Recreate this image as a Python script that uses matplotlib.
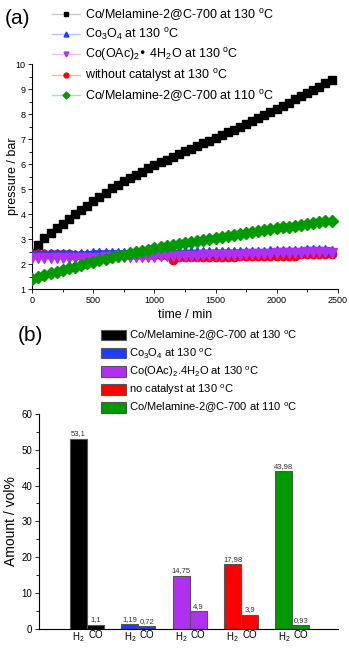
import matplotlib
matplotlib.use("Agg")
import matplotlib.pyplot as plt
from matplotlib.lines import Line2D
from matplotlib.ticker import MultipleLocator

plt.rcParams['font.family'] = ['Liberation Sans', 'DejaVu Sans']
plt.rcParams['mathtext.default'] = 'regular'

# (a) pressure vs time
time_min = list(range(0, 2500, 50))
p_black = [2.45, 2.75, 3.03, 3.25, 3.44, 3.62, 3.80, 4.00, 4.17, 4.34,
           4.51, 4.68, 4.86, 5.04, 5.18, 5.31, 5.44, 5.57, 5.70, 5.83,
           5.95, 6.07, 6.18, 6.29, 6.40, 6.51, 6.61, 6.72, 6.83, 6.93,
           7.04, 7.16, 7.27, 7.38, 7.50, 7.61, 7.73, 7.85, 7.97, 8.09,
           8.21, 8.34, 8.46, 8.59, 8.71, 8.84, 8.97, 9.10, 9.23, 9.36]
p_blue = [2.44, 2.44, 2.44, 2.44, 2.44, 2.44, 2.44, 2.40, 2.44, 2.44,
          2.50, 2.50, 2.50, 2.50, 2.50, 2.50, 2.50, 2.50, 2.50, 2.51,
          2.51, 2.51, 2.51, 2.51, 2.51, 2.52, 2.52, 2.52, 2.52, 2.52,
          2.53, 2.53, 2.53, 2.53, 2.54, 2.54, 2.54, 2.54, 2.54, 2.55,
          2.55, 2.55, 2.55, 2.55, 2.55, 2.62, 2.62, 2.62, 2.62, 2.55]
p_purple = [2.24, 2.24, 2.24, 2.24, 2.24, 2.25, 2.25, 2.25, 2.25, 2.26,
            2.26, 2.26, 2.27, 2.27, 2.27, 2.28, 2.28, 2.29, 2.29, 2.30,
            2.30, 2.31, 2.31, 2.32, 2.32, 2.33, 2.33, 2.34, 2.35, 2.35,
            2.36, 2.36, 2.37, 2.38, 2.38, 2.39, 2.40, 2.40, 2.41, 2.42,
            2.43, 2.44, 2.45, 2.46, 2.46, 2.47, 2.48, 2.48, 2.49, 2.44]
p_red = [2.42, 2.42, 2.42, 2.42, 2.42, 2.42, 2.42, 2.36, 2.36, 2.36,
         2.36, 2.36, 2.36, 2.36, 2.36, 2.36, 2.36, 2.36, 2.36, 2.36,
         2.36, 2.36, 2.36, 2.17, 2.30, 2.28, 2.28, 2.28, 2.28, 2.28,
         2.28, 2.28, 2.28, 2.28, 2.33, 2.33, 2.33, 2.33, 2.33, 2.33,
         2.33, 2.33, 2.33, 2.33, 2.40, 2.40, 2.40, 2.40, 2.40, 2.40]
p_green = [1.40, 1.50, 1.58, 1.64, 1.70, 1.78, 1.85, 1.90, 1.97, 2.04,
           2.10, 2.16, 2.22, 2.28, 2.33, 2.38, 2.43, 2.48, 2.53, 2.58,
           2.63, 2.67, 2.72, 2.76, 2.80, 2.85, 2.89, 2.93, 2.97, 3.02,
           3.06, 3.10, 3.14, 3.17, 3.21, 3.25, 3.29, 3.32, 3.36, 3.39,
           3.43, 3.47, 3.50, 3.54, 3.57, 3.61, 3.64, 3.68, 3.74, 3.72]

labels_a = ["Co/Melamine-2@C-700 at 130 $^o$C",
            "Co$_3$O$_4$ at 130 $^o$C",
            "Co(OAc)$_2$• 4H$_2$O at 130 $^o$C",
            "without catalyst at 130 $^o$C",
            "Co/Melamine-2@C-700 at 110 $^o$C"]

# (b) gas amounts
gas_labels = ["H$_2$", "CO"]
h2_vals = [53.1, 1.19, 14.75, 17.98, 43.98]
co_vals = [1.1, 0.72, 4.9, 3.9, 0.93]
h2_text = ["53,1", "1,19", "14,75", "17,98", "43,98"]
co_text = ["1,1", "0,72", "4,9", "3,9", "0,93"]
labels_b = ["Co/Melamine-2@C-700 at 130 $^o$C",
            "Co$_3$O$_4$ at 130 $^o$C",
            "Co(OAc)$_2$.4H$_2$O at 130 $^o$C",
            "no catalyst at 130 $^o$C",
            "Co/Melamine-2@C-700 at 110 $^o$C"]

colors = ["#000000", "#1e3cff", "#b030f0", "#ff0000", "#009900"]
line_colors = ["#c8c8c8", "#b8c4ff", "#efc0ff", "#ffb0b0", "#b0e0b0"]
markers = ["s", "^", "v", "o", "D"]

fig = plt.figure(figsize=(3.49, 6.48), dpi=100)

# ---- panel (a)
ax1 = fig.add_axes([0.0925, 0.554, 0.875, 0.347])
series = [p_black, p_blue, p_purple, p_red, p_green]
order = [0, 3, 1, 2, 4]
for i in order:
    ms = 6 if i != 2 else 7
    ax1.plot(time_min, series[i], color=colors[i], marker=markers[i],
             ms=ms, mec=colors[i], lw=2, zorder=2 + order.index(i))
ax1.set_xlim(0, 2500)
ax1.set_ylim(1, 10)
ax1.xaxis.set_major_locator(MultipleLocator(500))
ax1.xaxis.set_minor_locator(MultipleLocator(250))
ax1.yaxis.set_major_locator(MultipleLocator(1))
ax1.yaxis.set_minor_locator(MultipleLocator(0.5))
ax1.spines['top'].set_visible(False)
ax1.spines['right'].set_visible(False)
ax1.tick_params(labelsize=6.5, length=3, width=0.6, pad=2)
ax1.tick_params(which='minor', length=2, width=0.6)
ax1.set_xlabel("time / min", fontsize=9, labelpad=3)
ax1.set_ylabel("pressure / bar", fontsize=9)
ax1.yaxis.set_label_coords(-0.045, 0.5)

leg_handles = [Line2D([], [], color=line_colors[i], lw=1, marker=markers[i],
                      mfc=colors[i], mec=colors[i], ms=3.5)
               for i in range(5)]
fig.legend(leg_handles, labels_a, loc='upper left',
           bbox_to_anchor=(0.135, 0.997), frameon=False, fontsize=9,
           handlelength=2.2, handletextpad=0.4, labelspacing=0.3,
           borderaxespad=0)

fig.text(0.013, 0.972, "(a)", fontsize=15, va='center')

# ---- panel (b)
ax2 = fig.add_axes([0.1126, 0.03, 0.856, 0.331])
groups = list(range(1, 6))
w = 0.33
for i in range(5):
    ax2.bar(groups[i] - w / 2, h2_vals[i], w, color=colors[i],
            edgecolor="#555555", lw=0.8, label=labels_b[i])
    ax2.bar(groups[i] + w / 2, co_vals[i], w, color=colors[i],
            edgecolor="#555555", lw=0.8)
    ax2.text(groups[i] - w / 2, h2_vals[i] + 0.4, h2_text[i],
             ha='center', va='bottom', fontsize=5.5, color="#333333")
    ax2.text(groups[i] + w / 2, co_vals[i] + 0.4, co_text[i],
             ha='center', va='bottom', fontsize=5.5, color="#333333")

tick_pos = []
tick_lab = []
for g in groups:
    tick_pos += [g - w / 2, g + w / 2]
    tick_lab += gas_labels
ax2.set_xticks(tick_pos)
ax2.set_xticklabels(tick_lab, fontsize=7)
ax2.tick_params(axis='x', length=0, pad=1)
ax2.set_xlim(0.07, 5.89)
ax2.set_ylim(0, 60)
ax2.yaxis.set_major_locator(MultipleLocator(10))
ax2.yaxis.set_minor_locator(MultipleLocator(5))
ax2.tick_params(axis='y', labelsize=7, length=3, width=0.6, pad=2)
ax2.tick_params(axis='y', which='minor', length=2, width=0.6)
ax2.spines['top'].set_visible(False)
ax2.spines['right'].set_visible(False)
ax2.set_ylabel("Amount / vol%", fontsize=10)
ax2.yaxis.set_label_coords(-0.07, 0.5)

ax2.legend(loc='upper left', bbox_to_anchor=(0.19, 1.42), frameon=False,
           fontsize=8, handlelength=2.3, handleheight=1.1,
           handletextpad=0.3, labelspacing=0.35, borderaxespad=0)

fig.text(0.05, 0.483, "(b)", fontsize=15, va='center')

fig.savefig("out.png", dpi=100)
